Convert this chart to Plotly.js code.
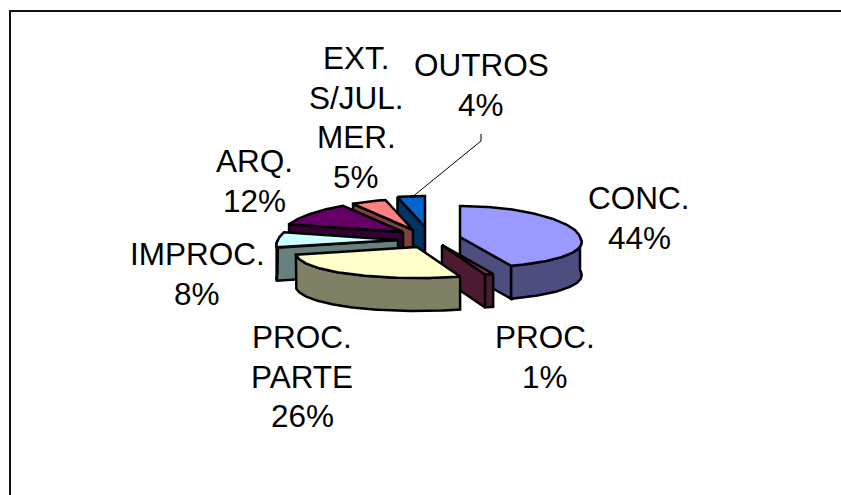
<!DOCTYPE html>
<html>
<head>
<meta charset="utf-8">
<script src="https://cdn.plot.ly/plotly-3.0.1.min.js"></script>
<style>html,body{margin:0;padding:0;background:#fff}#chart{width:841px;height:495px}</style>
</head>
<body>
<div id="chart"></div>
<script>
// ---- data ----
const categories = ["CONC.", "PROC.", "PROC. PARTE", "IMPROC.", "ARQ.", "EXT. S/JUL. MER.", "OUTROS"];
const values = [44, 1, 26, 8, 12, 5, 4];
const labelLines = [["CONC."], ["PROC."], ["PROC.", "PARTE"], ["IMPROC."], ["ARQ."], ["EXT.", "S/JUL.", "MER."], ["OUTROS"]];

// ---- styles ----
const topColors = ["#9999FF", "#993366", "#FFFFCC", "#CCFFFF", "#660066", "#FF8080", "#0066CC"];
const wallColors = ["#4D4D80", "#4D1933", "#808066", "#668080", "#330033", "#804040", "#003366"];
const pullX = [36, 18, -7, -26, -21, -11, 1];
const pullY = [-1, 7, 9, 2, -6, -8, -11];
const labelX = [639, 545, 302, 197, 254, 356, 481];
const labelY = [198, 337, 337, 254, 161, 58, 65];
const drawOrder = [6, 5, 4, 3, 0, 1, 2];
const CX = 424, CY = 238, RX = 120, RY = 31, PERSP_NEAR = 0.17, PERSP_FAR = 0.08, DEPTH = 33, LINE = 39.5, FONT = 31.5;

const rad = d => d * Math.PI / 180;
const total = values.reduce((a, b) => a + b, 0);
const traces = [];

function rim(a, i) {
  const c = Math.cos(rad(a));
  const s = 1 - (c > 0 ? PERSP_FAR : PERSP_NEAR) * c;
  return {
    x: CX + pullX[i] + RX * s * Math.sin(rad(a)),
    y: CY + pullY[i] - RY * c,
    d: DEPTH
  };
}
function apex(i) { return {x: CX + pullX[i], y: CY + pullY[i], d: DEPTH}; }
function poly(pts, color, name) {
  traces.push({
    type: "scatter", mode: "lines", x: pts.map(p => p[0]), y: pts.map(p => p[1]),
    fill: "toself", fillcolor: color, line: {color: "#000", width: 2.5, shape: "linear"},
    hoverinfo: "text", text: name, showlegend: false
  });
}
function radial(a, i) {
  const r = rim(a, i), c = apex(i);
  poly([[c.x, c.y], [r.x, r.y], [r.x, r.y + r.d], [c.x, c.y + c.d], [c.x, c.y]], wallColors[i], categories[i]);
}

let cum = 0;
const slices = values.map(v => { const a0 = cum / total * 360; cum += v; return [a0, cum / total * 360]; });

drawOrder.forEach(i => {
  const [a0, a1] = slices[i];
  // radial walls facing the viewer
  if (Math.sin(rad(a0)) < -1e-6) radial(a0, i);
  if (Math.sin(rad(a1)) > 1e-6) radial(a1, i);
  // outer wall, front half only
  const w0 = Math.max(a0, 90), w1 = Math.min(a1, 270);
  if (w1 > w0) {
    const n = Math.max(2, Math.ceil(w1 - w0)), up = [], down = [];
    for (let k = 0; k <= n; k++) {
      const r = rim(w0 + (w1 - w0) * k / n, i);
      up.push([r.x, r.y]); down.unshift([r.x, r.y + r.d]);
    }
    poly(up.concat(down, [up[0]]), wallColors[i], categories[i]);
  }
  // top
  const c = apex(i), pts = [[c.x, c.y]], n = Math.max(2, Math.ceil(a1 - a0));
  for (let k = 0; k <= n; k++) {
    const r = rim(a0 + (a1 - a0) * k / n, i);
    pts.push([r.x, r.y]);
  }
  pts.push([c.x, c.y]);
  poly(pts, topColors[i], categories[i]);
});

// ---- labels ----
const annotations = [];
categories.forEach((_, i) => {
  const lines = labelLines[i].concat([values[i] + "%"]);
  lines.forEach((t, k) => annotations.push({
    xref: "x", yref: "y", x: labelX[i], y: labelY[i] + k * LINE, text: t, showarrow: false,
    xanchor: "center", yanchor: "middle",
    font: {family: "Liberation Sans, Arial, sans-serif", size: FONT, color: "#000"}
  }));
});

const layout = {
  width: 841, height: 495, margin: {l: 0, r: 0, t: 0, b: 0},
  paper_bgcolor: "#fff", plot_bgcolor: "#fff", showlegend: false,
  xaxis: {range: [0, 841], visible: false, fixedrange: true},
  yaxis: {range: [495, 0], visible: false, fixedrange: true},
  annotations,
  shapes: [
    {type: "path", xref: "x", yref: "y", path: "M 411 198 L 481 141 L 481 134", line: {color: "#000", width: 1}},
    {type: "path", xref: "x", yref: "y", path: "M 10 495 L 10 11 L 841 11", line: {color: "#111", width: 2}}
  ]
};
Plotly.newPlot("chart", traces, layout, {displayModeBar: false, staticPlot: true});
</script>
</body>
</html>
